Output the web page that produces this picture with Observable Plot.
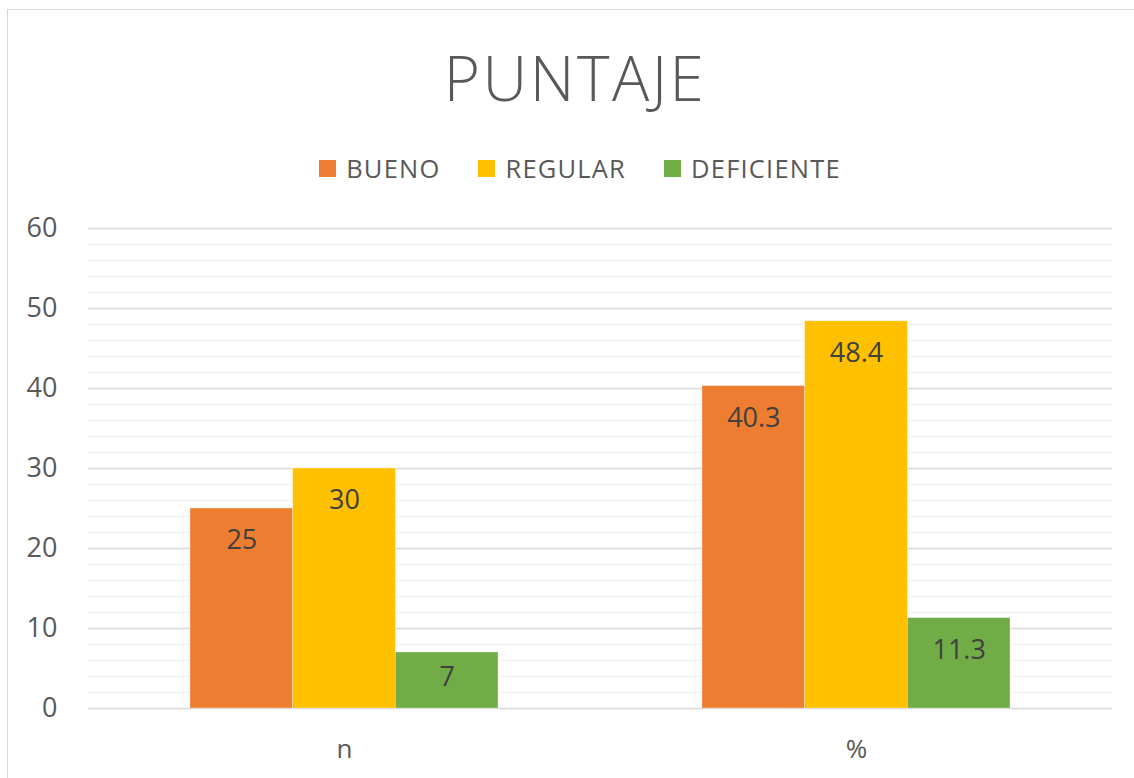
<!DOCTYPE html>
<html>
<head>
<meta charset="utf-8">
<script src="https://cdn.jsdelivr.net/npm/d3@7"></script>
<script src="https://cdn.jsdelivr.net/npm/@observablehq/plot@0.6"></script>
<style>
  html, body { margin: 0; padding: 0; background: #fff; }
  #wrap { position: relative; width: 1134px; height: 778px; overflow: hidden; font-family: "Open Sans", sans-serif; }
  #border { position: absolute; left: 7px; top: 9px; width: 1300px; height: 1000px; border: 1px solid #D9D9D9; box-sizing: border-box; }
  #title { position: absolute; left: 0; top: 46px; width: 1150px; text-align: center; font-size: 62px; letter-spacing: 2.5px; font-weight: 300; line-height: 1; color: #595959; }
  #legend { position: absolute; left: 0; top: 156px; width: 1160px; display: flex; justify-content: center; align-items: center; font-size: 25.5px; letter-spacing: 1.2px; color: #595959; line-height: 1; }
  .item { display: flex; align-items: center; margin: 0 19px; }
  .sw { width: 17px; height: 17px; margin-right: 10px; }
  #chart { position: absolute; left: 0; top: 200px; }
  #chart svg g[aria-label^="y-axis"] { font-size: 27px !important; }
  #chart svg g[aria-label^="fx-axis"] { font-size: 26px !important; }
</style>
</head>
<body>
<div id="wrap">
  <div id="border"></div>
  <div id="title"></div>
  <div id="legend"></div>
  <div id="chart"></div>
</div>
<script>
const title = "PUNTAJE";
const groups = ["n", "%"];
const series = ["BUENO", "REGULAR", "DEFICIENTE"];
const colors = ["#ED7D31", "#FFC000", "#70AD47"];
const bueno = [25, 40.3];
const regular = [30, 48.4];
const deficiente = [7, 11.3];
const labels = [["25", "40.3"], ["30", "48.4"], ["7", "11.3"]];
const majorTicks = [0, 10, 20, 30, 40, 50, 60];
const minorTicks = [2, 4, 6, 8, 12, 14, 16, 18, 22, 24, 26, 28, 32, 34, 36, 38, 42, 44, 46, 48, 52, 54, 56, 58];

const valuesBySeries = [bueno, regular, deficiente];
const data = [];
groups.forEach((g, gi) => {
  series.forEach((s, si) => {
    data.push({group: g, series: s, value: valuesBySeries[si][gi], label: labels[si][gi]});
  });
});

document.getElementById("title").textContent = title;
const legend = document.getElementById("legend");
series.forEach((s, i) => {
  const it = document.createElement("div");
  it.className = "item";
  const sw = document.createElement("div");
  sw.className = "sw";
  sw.style.background = colors[i];
  const tx = document.createElement("span");
  tx.textContent = s;
  it.appendChild(sw);
  it.appendChild(tx);
  legend.appendChild(it);
});

const plot = Plot.plot({
  width: 1134,
  height: 578,
  marginTop: 28,
  marginBottom: 70,
  marginLeft: 88,
  marginRight: 22,
  style: {fontFamily: "Open Sans, sans-serif", color: "#595959", background: "transparent"},
  fx: {domain: groups, padding: 0, label: null, tickSize: 0, tickPadding: 31},
  x: {domain: series, paddingInner: 0, paddingOuter: 0.9935, round: false, axis: null},
  y: {domain: [0, 60], ticks: majorTicks, label: null, tickSize: 0, tickPadding: 31},
  color: {domain: series, range: colors},
  marks: [
    Plot.ruleY(minorTicks, {stroke: "#F2F2F2", strokeWidth: 1.5}),
    Plot.ruleY(majorTicks, {stroke: "#D9D9D9", strokeWidth: 1.5}),
    Plot.barY(data, {fx: "group", x: "series", y: "value", fill: "series", stroke: "white", strokeWidth: 0.5, strokeOpacity: 0.6}),
    Plot.text(data.filter(d => d.value >= 10), {fx: "group", x: "series", y: "value", text: "label", dy: 32, fill: "#404040", fontSize: 27}),
    Plot.text(data.filter(d => d.value < 10), {fx: "group", x: "series", y: "value", text: "label", dy: 25, fill: "#404040", fontSize: 27})
  ]
});
document.getElementById("chart").appendChild(plot);
</script>
</body>
</html>
